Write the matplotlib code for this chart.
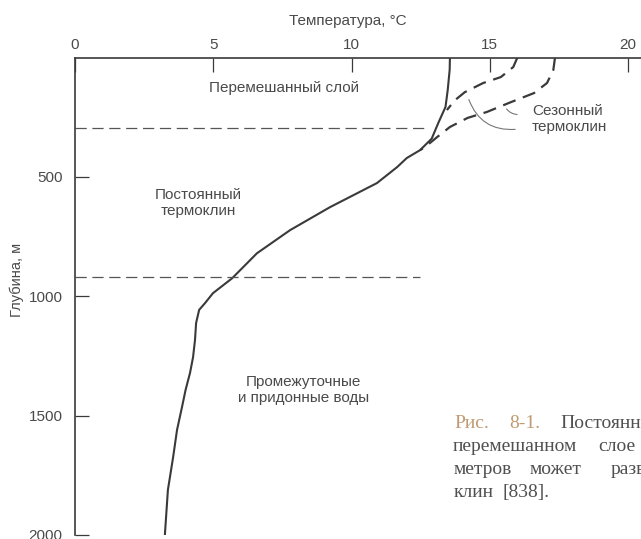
import numpy as np
import matplotlib.pyplot as plt

plt.rcParams['font.family'] = ['Liberation Sans', 'DejaVu Sans']

# постоянный профиль температуры (°C) по глубине (м)
t_main = [13.56, 13.55, 13.48, 13.4, 13.14, 12.9, 12.48, 12.0, 11.65, 10.92,
          9.22, 7.78, 6.58, 5.68, 4.99, 4.88, 4.7, 4.49, 4.38, 4.34, 4.27,
          4.16, 4.0, 3.87, 3.69, 3.55, 3.36, 3.25]
d_main = [0, 52, 136, 207, 274, 340, 388, 421, 459, 526,
          627, 723, 820, 925, 987, 1003, 1029, 1057, 1112, 1183, 1255,
          1321, 1392, 1464, 1560, 1673, 1811, 2000]

# сезонные профили (штрих)
t_s1 = [16.0, 15.85, 15.4, 14.76, 14.1, 13.74, 13.45]
d_s1 = [0, 40, 82, 107, 145, 179, 220]
t_s2 = [17.36, 17.3, 17.07, 16.6, 15.7, 14.9, 14.2, 13.56, 13.1, 12.66, 12.48]
d_s2 = [0, 52, 107, 149, 190, 228, 253, 291, 333, 375, 388]

# границы слоёв
layer_depths = [295, 920]
layer_tmax = [12.66, 12.48]

xticks = [0, 5, 10, 15, 20]
yticks = [500, 1000, 1500, 2000]

ink = '#3a3a3a'
txt = '#4a4a4a'

fig = plt.figure(figsize=(6.41, 5.39), dpi=100)
ax = fig.add_axes([75 / 641, 4 / 539, 566 / 641, 477.5 / 539])

ax.plot(t_main, d_main, color=ink, lw=1.5, solid_joinstyle='round')
ax.plot(t_s1, d_s1, color=ink, lw=1.6, dashes=(6, 3.5))
ax.plot(t_s2, d_s2, color=ink, lw=1.6, dashes=(6, 3.5))

for d, tm in zip(layer_depths, layer_tmax):
    ax.plot([0, tm], [d, d], color='#555555', lw=0.9, dashes=(9, 4.5))

ax.set_xlim(0, 566 / 27.65)
ax.set_ylim(2000, 0)
ax.xaxis.tick_top()
ax.set_xticks(xticks)
ax.set_yticks(yticks)
ax.tick_params(axis='x', direction='in', length=10, width=0.9, color=ink,
               pad=4, labelsize=11, labelcolor=txt)
ax.tick_params(axis='y', direction='in', length=10, width=0.9, color=ink,
               pad=9, labelsize=11, labelcolor=txt)
for s in ['right', 'bottom']:
    ax.spines[s].set_visible(False)
for s in ['top', 'left']:
    ax.spines[s].set_color(ink)
    ax.spines[s].set_linewidth(1.2)

fig.text(348 / 641, 1 - 21 / 539, 'Температура, °C', fontsize=11, color=txt,
         ha='center', va='center')
fig.text(17 / 641, 1 - 280 / 539, 'Глубина, м', rotation=90, fontsize=10.5,
         color=txt, ha='center', va='center')

lab = dict(fontsize=11, color=txt, va='center', linespacing=1.2)
ax.text(7.56, 128, 'Перемешанный слой', ha='center', **lab)
ax.text(4.45, 611, 'Постоянный\nтермоклин', ha='center', **lab)
ax.text(8.25, 1392, 'Промежуточные\nи придонные воды', ha='center', **lab)
ax.text(16.53, 258, 'Сезонный\nтермоклин', ha='left', **lab)

# выноски
ax.annotate('', xy=(15.55, 206), xytext=(16.09, 239),
            arrowprops=dict(arrowstyle='-', color='#777777', lw=0.8,
                            connectionstyle='arc3,rad=-0.3'))
ax.annotate('', xy=(14.21, 165), xytext=(16.02, 300),
            arrowprops=dict(arrowstyle='-', color='#777777', lw=0.8,
                            connectionstyle='arc3,rad=-0.4'))

# подпись к рисунку (обрезана краем), слова по ширине строки
tan = '#c09a72'
body = '#505050'
cap_lines = [
    [('Рис.', 454, tan), ('8-1.', 509, tan), ('Постоянный', 560, body)],
    [('перемешанном', 453, body), ('слое', 598, body)],
    [('метров', 454, body), ('может', 530, body), ('развиться', 611, body)],
    [('клин', 454, body), ('[838].', 503, body)],
]
cap_base = [428, 451, 474, 497]
for words, yb in zip(cap_lines, cap_base):
    for w, xp, c in words:
        fig.text(xp / 641, 1 - yb / 539, w, color=c, fontsize=14,
                 family=['Liberation Serif', 'DejaVu Serif'],
                 ha='left', va='baseline')

fig.savefig('out.png', dpi=100)
